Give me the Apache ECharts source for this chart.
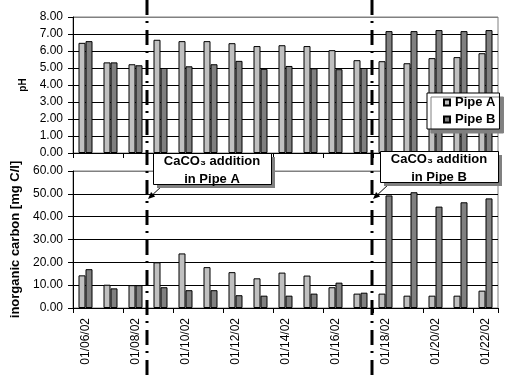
<!DOCTYPE html>
<html><head><meta charset="utf-8">
<script src="https://cdn.jsdelivr.net/npm/echarts@6/dist/echarts.min.js"></script>
<style>html,body{margin:0;padding:0;background:#fff}#c{width:515px;height:385px}</style>
</head><body><div id="c"></div>
<script>
const dates = ['01/06/02','01/07/02','01/08/02','01/09/02','01/10/02','01/11/02','01/12/02','01/13/02','01/14/02','01/15/02','01/16/02','01/17/02','01/18/02','01/19/02','01/20/02','01/21/02','01/22/02'];
const phA = [6.48, 5.33, 5.22, 6.66, 6.58, 6.58, 6.46, 6.29, 6.34, 6.29, 6.05, 5.46, 5.40, 5.28, 5.58, 5.64, 5.87];
const phB = [6.58, 5.33, 5.16, 5.00, 5.10, 5.22, 5.42, 4.95, 5.12, 4.98, 4.93, 5.00, 7.17, 7.17, 7.23, 7.17, 7.23];
const carbonA = [14.3, 10.2, 10.0, 20.0, 23.9, 17.9, 15.7, 13.0, 15.5, 14.2, 9.1, 6.3, 6.3, 5.4, 5.4, 5.4, 7.6];
const carbonB = [17.0, 8.6, 10.0, 9.1, 7.8, 7.8, 5.6, 5.4, 5.4, 6.3, 11.1, 6.7, 49.3, 50.7, 44.4, 46.3, 48.0];
const seriesNames = ['Pipe A', 'Pipe B'];
const notes = [
  {after: 2, lines: ['CaCO₃ addition', 'in Pipe A']},
  {after: 11, lines: ['CaCO₃ addition', 'in Pipe B']}
];

const FF = '"Liberation Sans", Arial, sans-serif';
const colA = '#C0C0C0', colB = '#808080';

function xAx(idx, showLabel) {
  return {
    type: 'category', gridIndex: idx, data: dates, boundaryGap: true,
    axisLine: {show: true, lineStyle: {color: '#000', width: 1}},
    axisTick: {show: true, interval: 1, length: 5, inside: false, lineStyle: {color: '#000'}},
    axisLabel: {show: showLabel, interval: 1, rotate: 90, fontSize: 12, margin: 10, color: '#000', fontFamily: FF},
    splitLine: {show: false}
  };
}
function yAx(idx, max, interval, name, nameSize, gap) {
  const n = max / interval + 1;
  const cols = [];
  for (let i = 0; i < n; i++) cols.push(i === n - 1 ? '#808080' : '#000');
  return {
    type: 'value', gridIndex: idx, min: 0, max: max, interval: interval,
    name: name, nameLocation: 'middle', nameRotate: 90, nameGap: gap,
    nameTextStyle: {fontWeight: 'bold', fontSize: nameSize, color: '#000', fontFamily: FF},
    axisLine: {show: true, lineStyle: {color: '#000'}},
    axisTick: {show: true, length: 5, lineStyle: {color: '#000'}},
    axisLabel: {formatter: v => v.toFixed(2), fontSize: 12, margin: 10, color: '#000', fontFamily: FF},
    splitLine: {show: true, lineStyle: {color: cols, width: 1}}
  };
}
function bar(name, data, xi, yi, color) {
  return {
    type: 'bar', name: name, data: data, xAxisIndex: xi, yAxisIndex: yi,
    barWidth: 7, barGap: '0%',
    itemStyle: {color: color, borderColor: '#000', borderWidth: 1},
    emphasis: {disabled: true}, animation: false
  };
}

const option = {
  animation: false,
  backgroundColor: '#fff',
  textStyle: {fontFamily: FF},
  grid: [
    {left: 73, top: 17, width: 425, height: 136, show: true, borderColor: '#808080', borderWidth: 1, backgroundColor: 'transparent'},
    {left: 73, top: 171, width: 425, height: 137, show: true, borderColor: '#808080', borderWidth: 1, backgroundColor: 'transparent'}
  ],
  xAxis: [xAx(0, false), xAx(1, true)],
  yAxis: [yAx(0, 8, 1, 'pH', 10, 41), yAx(1, 60, 10, 'inorganic carbon [mg C/l]', 13, 51)],
  legend: {
    orient: 'vertical', left: 427, top: 93, padding: [3, 4, 3, 16], itemGap: 4,
    itemWidth: 6, itemHeight: 6, icon: 'rect', selectedMode: false,
    textStyle: {fontWeight: 'bold', fontSize: 13, color: '#000', fontFamily: FF},
    backgroundColor: '#fff', borderColor: '#000', borderWidth: 1,
    shadowColor: '#808080', shadowOffsetX: 4, shadowOffsetY: 4, shadowBlur: 0,
    data: seriesNames, z: 10
  },
  series: [
    bar(seriesNames[0], phA, 0, 0, colA),
    bar(seriesNames[1], phB, 0, 0, colB),
    bar(seriesNames[0], carbonA, 1, 1, colA),
    bar(seriesNames[1], carbonB, 1, 1, colB)
  ]
};

const chart = echarts.init(document.getElementById('c'), null, {renderer: 'canvas'});
chart.setOption(option);

const px = i => chart.convertToPixel({xAxisIndex: 1}, dates[i]);
const graphics = [];
notes.forEach(function (nt, k) {
  const lx = Math.round((px(nt.after) + px(nt.after + 1)) / 2) - 1;
  graphics.push({
    type: 'line', z: 20,
    shape: {x1: lx, y1: 0, x2: lx, y2: 378},
    style: {stroke: '#000', lineWidth: 3, lineDash: [15, 6, 2, 7]}
  });
  const bx = lx + (k === 0 ? 6 : 8), by = k === 0 ? 153 : 151, bw = 118, bh = 31;
  // arrow
  const sx = bx + 10, sy = by + bh + 1, tx = lx + 1, ty = 199;
  const dx = tx - sx, dy = ty - sy, L = Math.sqrt(dx * dx + dy * dy);
  const ux = dx / L, uy = dy / L, hl = 7, hw = 3;
  const bxp = tx - ux * hl, byp = ty - uy * hl;
  graphics.push({type: 'line', z: 21, shape: {x1: sx, y1: sy, x2: bxp, y2: byp}, style: {stroke: '#000', lineWidth: 1}});
  graphics.push({type: 'polygon', z: 21, shape: {points: [[tx, ty], [bxp - uy * hw, byp + ux * hw], [bxp + uy * hw, byp - ux * hw]]}, style: {fill: '#000'}});
  graphics.push({type: 'rect', z: 22, shape: {x: bx + 4, y: by + 4, width: bw, height: bh}, style: {fill: '#808080'}});
  graphics.push({type: 'rect', z: 23, shape: {x: bx + 0.5, y: by + 0.5, width: bw, height: bh}, style: {fill: '#fff', stroke: '#000', lineWidth: 1}});
  graphics.push({type: 'text', z: 24, x: bx + bw / 2, y: by + 8,
    style: {text: nt.lines[0], fill: '#000', font: 'bold 13px ' + FF, textAlign: 'center', textVerticalAlign: 'middle'}});
  graphics.push({type: 'text', z: 24, x: bx + bw / 2, y: by + 26,
    style: {text: nt.lines[1], fill: '#000', font: 'bold 13px ' + FF, textAlign: 'center', textVerticalAlign: 'middle'}});
});
chart.setOption({graphic: graphics});
</script>
</body></html>
